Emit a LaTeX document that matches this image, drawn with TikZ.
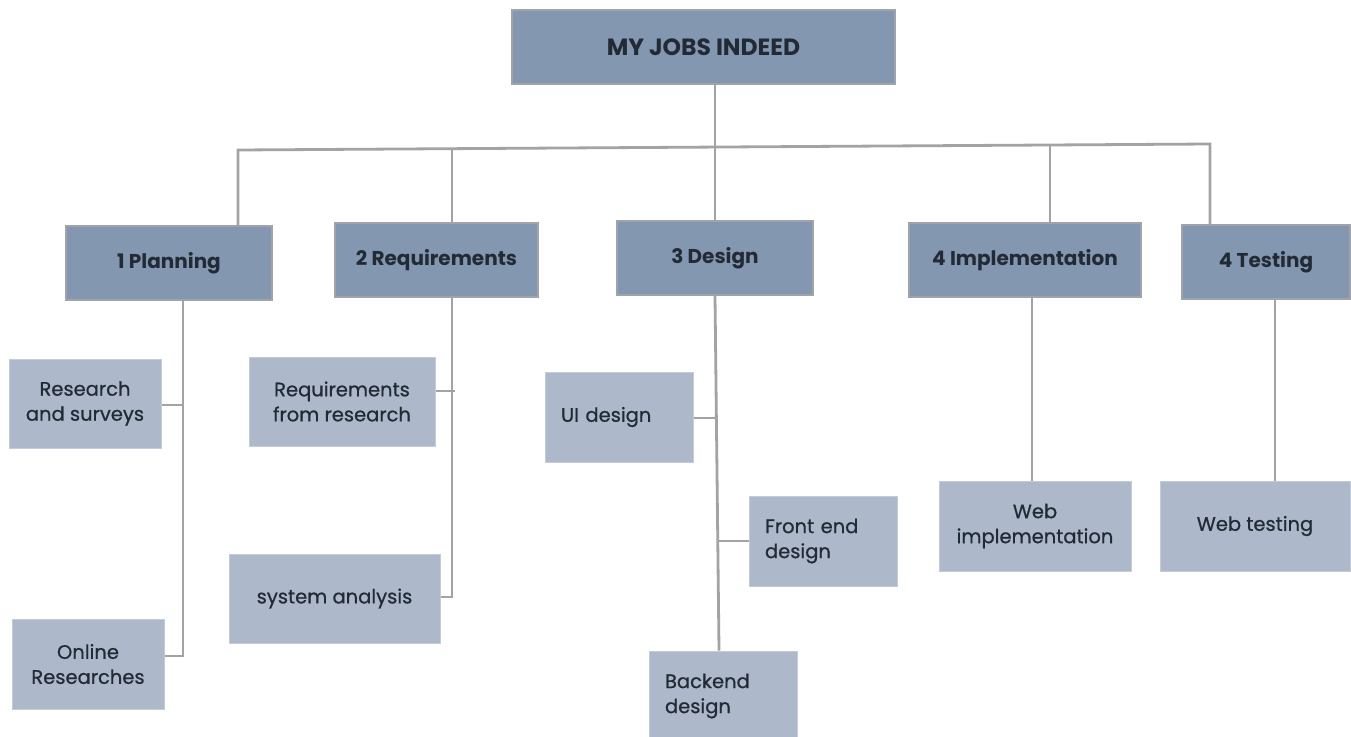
\documentclass[tikz,border=0pt]{standalone}
\usepackage{fontspec}
\setmainfont{Poppins}
\newfontfamily\subfont{Poppins}[FakeBold=0.7]
\definecolor{hdr}{HTML}{8497B0}
\definecolor{sub}{HTML}{ADB9CA}
\definecolor{lnk}{HTML}{A3A3A3}
\definecolor{txt}{HTML}{222A35}
\definecolor{hbord}{HTML}{A0A4AA}
\definecolor{sbord}{HTML}{C4CCD8}
\tikzset{
  hbox/.style={draw=hbord,line width=1.2pt,fill=hdr,text=txt,inner sep=0pt,
    font=\fontsize{20}{23}\selectfont\bfseries,align=center},
  sbox/.style={draw=sbord,line width=1pt,fill=sub,text=txt,inner sep=0pt,
    font=\subfont\fontsize{19.5}{25}\selectfont},
  lbox/.style={sbox,align=left,text width=116,inner xsep=0pt},
  link/.style={draw=lnk,line width=2.8pt}
}
\begin{document}
\begin{tikzpicture}[x=1pt,y=-1pt]
\useasboundingbox (0,0) rectangle (1351,736);
% top
\node[hbox,font=\fontsize{23.5}{27}\selectfont\bfseries,minimum width=383,minimum height=74] (top) at (703.5,47) {MY JOBS INDEED};
% headers
\node[hbox,minimum width=206,minimum height=74] (plan) at (169,263) {1 Planning};
\node[hbox,minimum width=203,minimum height=74] (req) at (436.5,260) {2 Requirements};
\node[hbox,minimum width=196,minimum height=74] (des) at (715,258) {3 Design};
\node[hbox,minimum width=232,minimum height=74] (impl) at (1025,260) {4 Implementation};
\node[hbox,minimum width=168,minimum height=74] (test) at (1266,262) {4 Testing};
% sub boxes
\node[sbox,align=center,minimum width=152,minimum height=89] (rs) at (85,403.5) {Research\\and surveys};
\node[sbox,align=center,minimum width=152,minimum height=90] (on) at (88,664) {Online\\Researches};
\node[sbox,align=center,minimum width=186,minimum height=89] (rr) at (342,401.5) {Requirements\\from research};
\node[sbox,align=center,minimum width=211,minimum height=89] (sa) at (334.5,598.5) {system analysis};
\node[lbox,minimum width=148,minimum height=90] (ui) at (619,417) {UI design};
\node[lbox,minimum width=148,minimum height=90] (fe) at (823,541) {Front end\\design};
\node[lbox,minimum width=148,minimum height=90] (be) at (723,696) {Backend\\design};
\node[sbox,align=center,minimum width=192,minimum height=90] (wi) at (1035,526) {Web\\implementation};
\node[sbox,align=center,minimum width=190,minimum height=90] (wt) at (1255,526) {Web testing};
% bus
\coordinate (bt) at (715,148);
\coordinate (bl) at (238,150);
\coordinate (br) at (1210,144);
\draw[link] (top.south -| bt) -- (bt);
\draw[link] (plan.north -| bl) -- (bl) -- (br) -- (test.north -| br);
\draw[link] (req.north -| 452,0) -- (452,149.3);
\draw[link] (des.north) -- (715,148);
\draw[link] (impl.north -| 1050,0) -- (1050,145.2);
% planning
\coordinate (pb) at (183,656);
\draw[link] (plan.south -| pb) -- (pb) -- (on.east |- pb);
\draw[link] (rs.east |- 0,405) -- (183,405);
% requirements
\coordinate (qb) at (452,597);
\draw[link] (req.south -| qb) -- (qb) -- (sa.east |- qb);
\draw[link] (rr.east |- 0,391) -- (455,391);
% design
\draw[link] (des.south) -- (be.north -| 719,0);
\draw[link] (ui.east |- 0,418) -- (716,418);
\draw[link] (718,541) -- (fe.west |- 0,541);
% impl / test
\draw[link] (impl.south -| 1032,0) -- (wi.north -| 1032,0);
\draw[link] (test.south -| 1275,0) -- (wt.north -| 1275,0);
\end{tikzpicture}
\end{document}
